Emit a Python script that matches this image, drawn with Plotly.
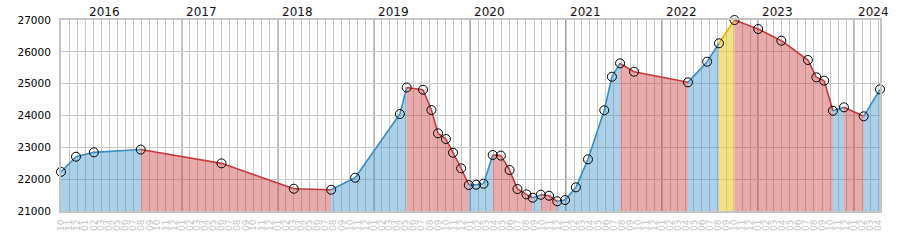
import plotly.graph_objects as go

dates = [
    "2015-09-30", "2015-11-26", "2016-02-02", "2016-07-29", "2017-06-01",
    "2018-03-03", "2018-07-23", "2018-10-22", "2019-04-10", "2019-05-06",
    "2019-07-07", "2019-08-08", "2019-09-02", "2019-10-02", "2019-10-29",
    "2019-11-29", "2019-12-28", "2020-01-25", "2020-02-22", "2020-03-28",
    "2020-04-28", "2020-05-31", "2020-06-30", "2020-08-03", "2020-08-27",
    "2020-09-27", "2020-10-28", "2020-11-28", "2020-12-28", "2021-02-07",
    "2021-03-25", "2021-05-26", "2021-06-24", "2021-07-25", "2021-09-16",
    "2022-04-09", "2022-06-21", "2022-08-05", "2022-10-03", "2023-01-01",
    "2023-03-30", "2023-07-09", "2023-08-10", "2023-09-09", "2023-10-12",
    "2023-11-23", "2024-02-06", "2024-04-08",
]
values = [
    22230, 22705, 22843, 22930, 22497,
    21700, 21668, 22045, 24046, 24880,
    24810, 24172, 23440, 23261, 22831,
    22340, 21816, 21826, 21857, 22760,
    22740, 22287, 21690, 21523, 21417,
    21511, 21480, 21304, 21344, 21743,
    22623, 24165, 25219, 25639, 25376,
    25042, 25690, 26268, 27000, 26717,
    26350, 25743, 25200, 25093, 24150,
    24257, 23974, 24822,
]
years = [2016, 2017, 2018, 2019, 2020, 2021, 2022, 2023, 2024]
highlight_segments = [37]

x_range = ["2015-09-30", "2024-04-08"]
y_range = [21000, 27000]

styles = {
    "up": dict(line="#3a8fc6", fill="rgba(60,145,200,0.43)"),
    "down": dict(line="#c8393b", fill="rgba(200,55,58,0.42)"),
    "high": dict(line="#e6b400", fill="rgba(232,200,40,0.55)"),
}

fig = go.Figure()
for i in range(len(dates) - 1):
    if i in highlight_segments:
        kind = "high"
    elif values[i + 1] >= values[i]:
        kind = "up"
    else:
        kind = "down"
    st = styles[kind]
    fig.add_trace(go.Scatter(
        x=[dates[i], dates[i + 1]], y=[values[i], values[i + 1]],
        mode="lines", line=dict(color=st["line"], width=1.6),
        fill="tozeroy", fillcolor=st["fill"],
        showlegend=False, hoverinfo="skip",
    ))

fig.add_trace(go.Scatter(
    x=dates, y=values, mode="markers",
    marker=dict(symbol="circle-open", size=9, color="black",
                line=dict(color="black", width=1)),
    showlegend=False, cliponaxis=False,
))

for yr in years:
    fig.add_shape(type="line", xref="x", yref="paper",
                  x0=f"{yr}-01-01", x1=f"{yr}-01-01", y0=0, y1=1,
                  line=dict(color="black", width=1), layer="below")
    fig.add_annotation(x=f"{yr}-01-01", xref="x", y=1, yref="paper",
                       text=str(yr), showarrow=False, xanchor="left",
                       yanchor="bottom", xshift=2, yshift=-1,
                       font=dict(family="DejaVu Sans", size=12, color="#111111"))

fig.update_layout(
    width=900, height=250,
    margin=dict(l=61, r=20, t=20, b=39),
    paper_bgcolor="white", plot_bgcolor="white",
    font=dict(family="DejaVu Sans"),
)
fig.update_xaxes(
    type="date", range=x_range,
    dtick="M1", tick0="2015-10-01", tickformat="%m", tickangle=-90,
    tickfont=dict(size=9, color="#c4c4c4"), ticklabelstandoff=3,
    showgrid=True, gridcolor="#c8c8c8", gridwidth=1,
    showline=True, linecolor="#c4c4c4", linewidth=2, mirror=True,
    ticks="", zeroline=False,
)
fig.update_yaxes(
    range=y_range, dtick=1000, tick0=21000, tickformat="d",
    tickfont=dict(size=10.5, color="black"),
    showgrid=True, gridcolor="#c8c8c8", gridwidth=1,
    showline=True, linecolor="#c4c4c4", linewidth=2, mirror=True,
    ticks="", zeroline=False, ticklabelstandoff=6,
)

fig.write_html("out.html")
